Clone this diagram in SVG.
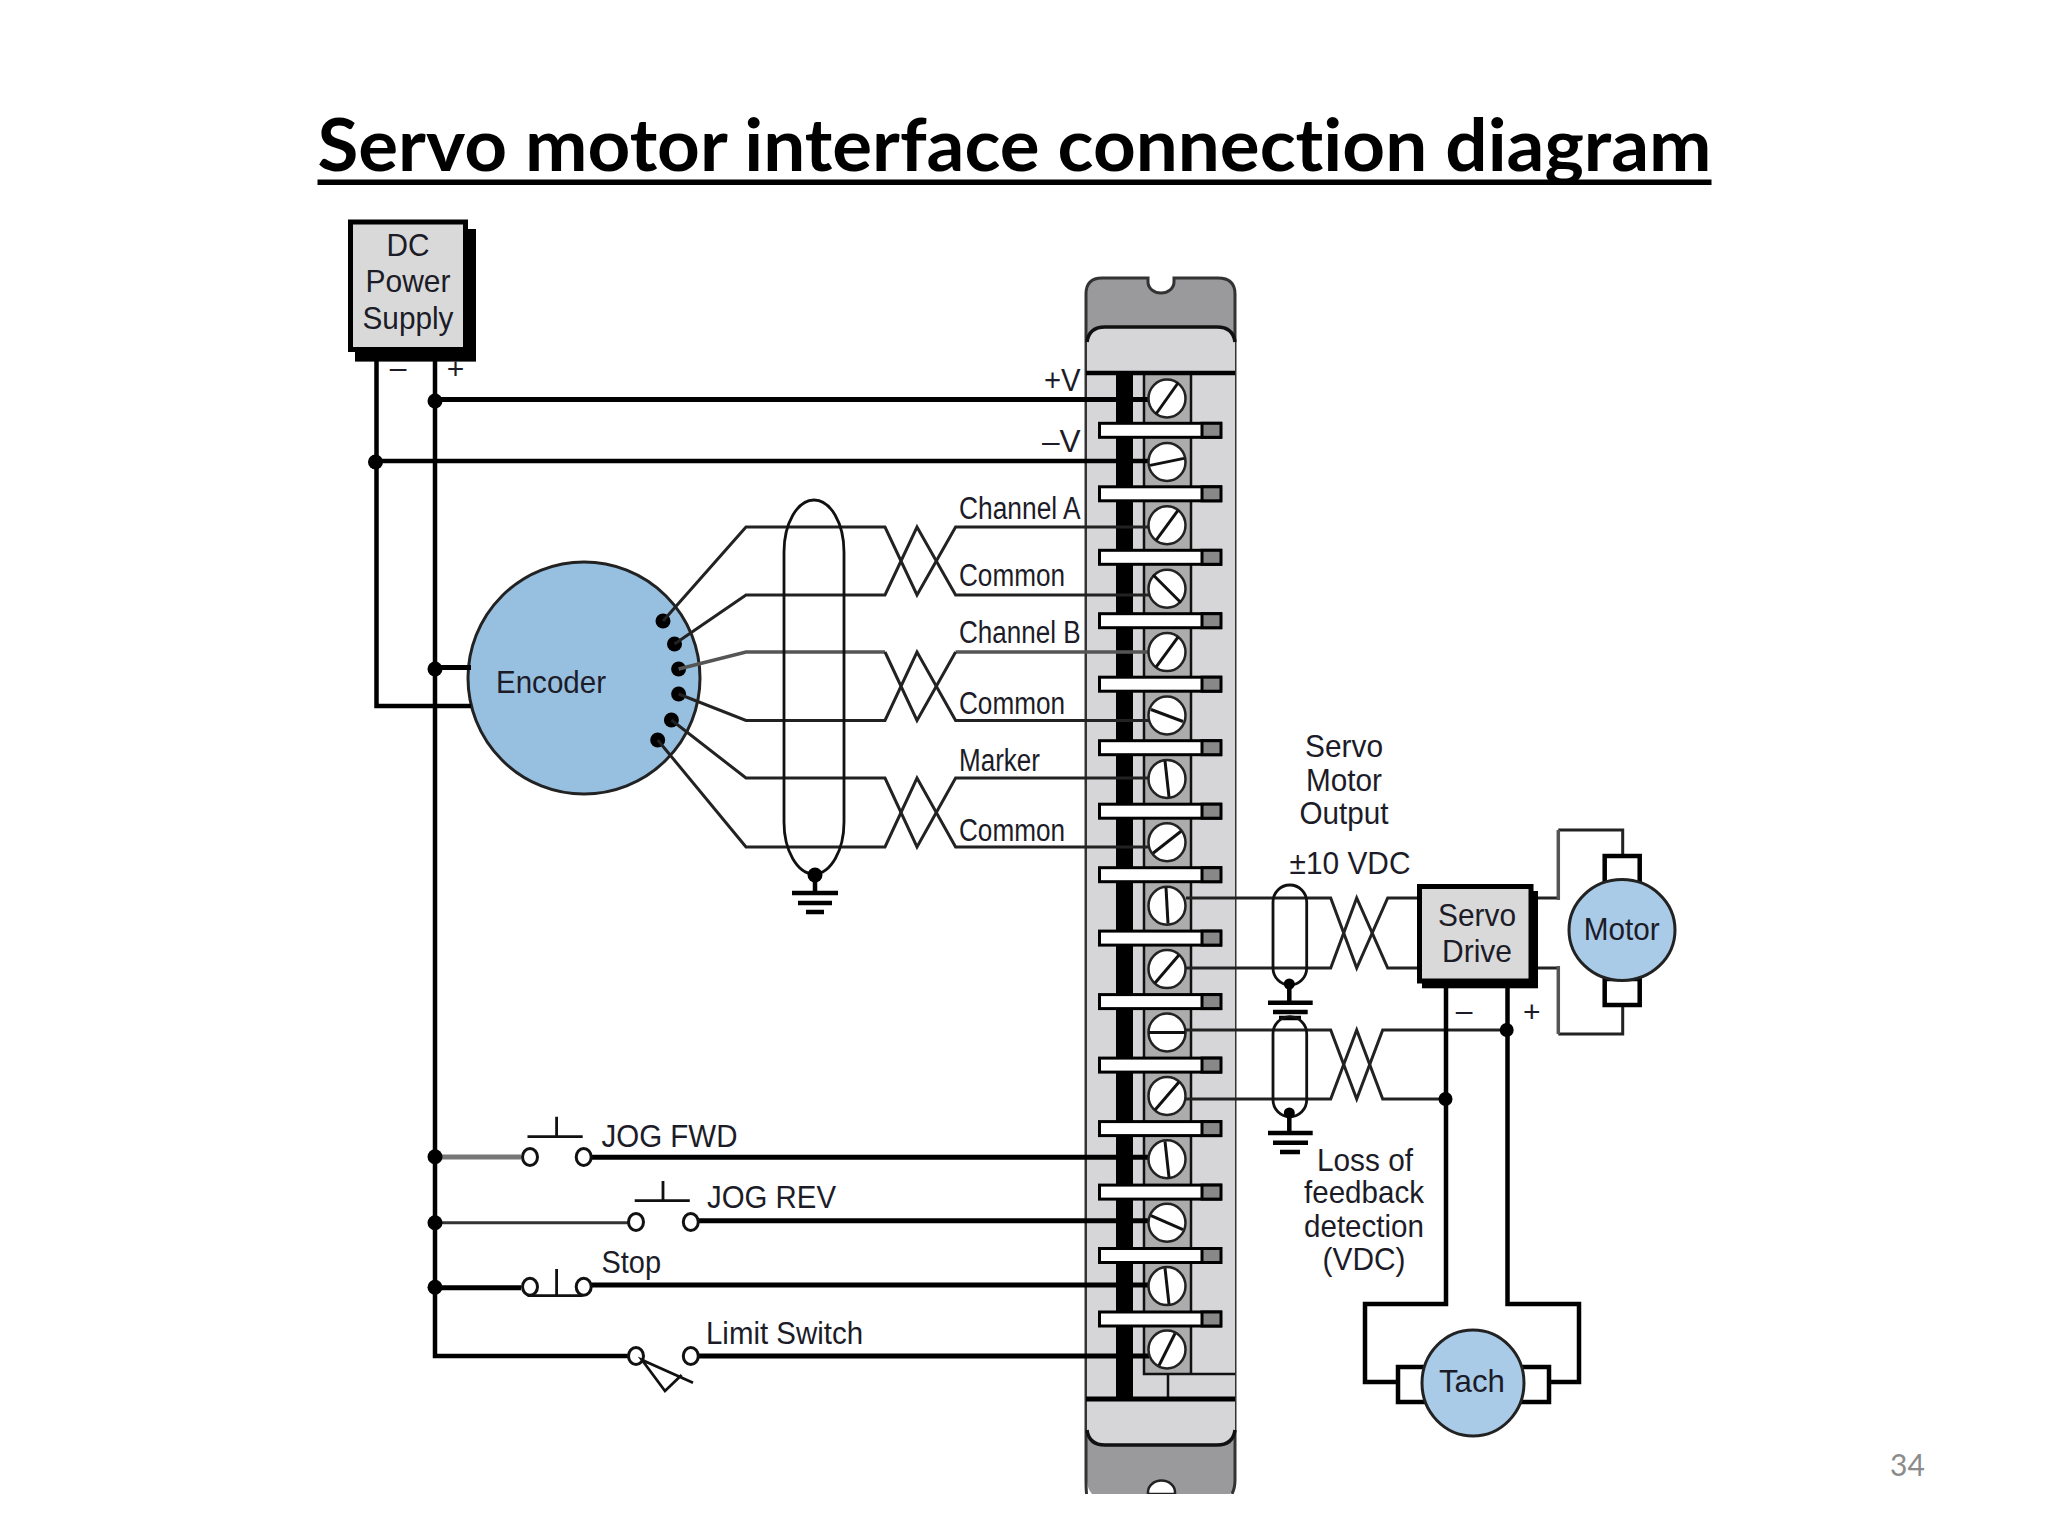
<svg xmlns="http://www.w3.org/2000/svg" width="2048" height="1536" viewBox="0 0 2048 1536">
<style>
text{font-family:"Liberation Sans",Arial,sans-serif;font-size:32px;fill:#1c1c28}
.m{text-anchor:middle}
.n{font-size:31px}
.title{font-family:Lato,"Open Sans",sans-serif;font-weight:700;font-size:72px;fill:#000;font-variant-ligatures:none}
.w{fill:none;stroke:#222;stroke-width:3;stroke-linejoin:miter}
.wg{fill:none;stroke:#555;stroke-width:3.5}
.t{fill:none;stroke:#000;stroke-width:5}
.b{fill:none;stroke:#000;stroke-width:4.5}
.d{fill:#000}
.g{fill:none;stroke:#111;stroke-width:2.8}
.gl{stroke:#000;stroke-width:4.5}
.c{fill:#fff;stroke:#111;stroke-width:3}
.sc{fill:#fff;stroke:#222;stroke-width:2.5}
.sl{stroke:#111;stroke-width:3}
.bw{fill:#fff;stroke:#000;stroke-width:3}
.bg{fill:#888;stroke:#000;stroke-width:3}
.box{fill:#d9d9d9;stroke:#000;stroke-width:5}
.mot{fill:#a9cbe8;stroke:#222;stroke-width:3}
.wb{fill:#fff;stroke:#000;stroke-width:4.5}
.sign{font-size:30px}
</style>
<rect width="2048" height="1536" fill="#fff"/>
<g id="title">
<text class="title" x="317.5" y="171" textLength="1394" lengthAdjust="spacingAndGlyphs">Servo motor interface connection diagram</text>
<rect x="317.5" y="179.5" width="1394" height="5.5" fill="#000"/>
</g>
<g id="terminal-module">
<path d="M1086,294 Q1086,278 1102,278 H1148 V282 A13,11 0 0 0 1174,282 V278 H1218 Q1235,278 1235,294 V1480 Q1235,1488 1230,1494 H1092 Q1087,1488 1087,1480 Z" fill="#9a9a9c"/>
<path d="M1086.5,1494 Q1086,1488 1086,1480 V294 Q1086,278 1102,278 H1148 V282 A13,11 0 0 0 1174,282 V278 H1218 Q1235,278 1235,294 V1480 Q1235,1488 1232,1494" fill="none" stroke="#333" stroke-width="3"/>
<path d="M1087,342 Q1089,327 1105,327 H1217 Q1233,327 1235,342 V1430 Q1233,1445 1217,1445 H1105 Q1089,1445 1087,1430 Z" fill="#d6d6d8"/>
<path d="M1087,342 Q1089,327 1105,327 H1217 Q1233,327 1235,342 M1087,1430 Q1089,1445 1105,1445 H1217 Q1233,1445 1235,1430" fill="none" stroke="#111" stroke-width="3.5"/>
<path d="M1148,1494 V1492 A13,11 0 0 1 1175,1492 V1494 Z" fill="#fff" stroke="#222" stroke-width="2.5"/>
<rect x="1086" y="1494" width="150" height="3" fill="#fff"/>
<path d="M1144,375 V1374 H1191 V375" fill="#acacac"/>
<path d="M1144,375 V1374 H1235 M1191,375 V1374 M1168,1374 V1399" fill="none" stroke="#111" stroke-width="2.5"/>
<rect x="1116" y="373" width="17" height="1026" fill="#000"/>
<path d="M1086,373 H1235" stroke="#000" stroke-width="4.5"/>
<path d="M1086,1399 H1235" stroke="#000" stroke-width="5"/>
</g>
<g id="encoder">
<ellipse cx="584" cy="678" rx="116" ry="116" fill="#97bfe0" stroke="#222" stroke-width="3"/>
<text x="496" y="693" textLength="110" lengthAdjust="spacingAndGlyphs">Encoder</text>
<g class="d">
<circle cx="663" cy="621" r="7.5"/>
<circle cx="674.5" cy="644" r="7.5"/>
<circle cx="678.6" cy="669" r="7.5"/>
<circle cx="678.6" cy="694" r="7.5"/>
<circle cx="671.4" cy="720" r="7.5"/>
<circle cx="657.7" cy="740" r="7.5"/>
</g>
</g>
<g id="connectors">
<path class="b" d="M376.5,361 V706 H471"/>
<path class="b" d="M435,361 V1356 H628"/>
<path class="t" d="M435,399.5 H1149"/>
<path class="b" d="M376,461 H1149"/>
<path class="t" d="M435,667.5 H471"/>
<path class="w" d="M663,621 L746,527 H885 L917,595 L955.6,527 H1149"/>
<path class="w" d="M674.5,644 L746,595 H885 L917,527 L955.6,595 H1149"/>
<path class="wg" d="M678.6,669 L746,652 H885 M955.6,652 H1149"/>
<path class="w" d="M885,652 L917,720.5 L955.6,652"/>
<path class="w" d="M678.6,694 L746,720.5 H885 L917,652 L955.6,720.5 H1149"/>
<path class="w" d="M671.4,720 L746,778 H885 L917,847 L955.6,778 H1149"/>
<path class="w" d="M657.7,740 L746,847 H885 L917,778 L955.6,847 H1149"/>
<path class="w" d="M1186,898 H1330.7 L1356.7,968 L1387.7,898 H1418"/>
<path class="w" d="M1186,968 H1330.7 L1356.7,898 L1387.7,968 H1418"/>
<path class="w" d="M1186,1030 H1330.7 L1356.7,1099 L1382.7,1030 H1507"/>
<path class="w" d="M1186,1099 H1330.7 L1356.7,1030 L1382.7,1099 H1446"/>
<path class="b" d="M1446,985 V1304 H1365 V1382 H1400"/>
<path class="b" d="M1507.5,985 V1304 H1579 V1382 H1549"/>
<path class="w" d="M1536,898 H1558.3 M1622.7,854 V830 H1558.3"/>
<path class="wg" d="M1558.3,900 V830"/>
<path class="w" d="M1536,968 H1558.3 M1622.7,1006 V1034 H1558.3"/>
<path class="wg" d="M1558.3,966 V1034"/>
<path d="M435,1157 H521" fill="none" stroke="#777" stroke-width="5"/>
<path d="M435,1222.7 H628" fill="none" stroke="#333" stroke-width="3"/>
<path class="t" d="M435,1287.7 H521"/>
<path class="t" d="M592,1157.3 H1149"/>
<path class="t" d="M699,1220.7 H1149"/>
<path class="t" d="M592,1285 H1149"/>
<path class="t" d="M699,1356 H1149"/>
<g class="d">
<circle cx="435" cy="401" r="7.5"/>
<circle cx="375.5" cy="462" r="7.5"/>
<circle cx="435" cy="669" r="7.5"/>
<circle cx="1506.7" cy="1030" r="7"/>
<circle cx="1445.5" cy="1099" r="7"/>
<circle cx="435" cy="1156.7" r="7.5"/>
<circle cx="435" cy="1222.7" r="7.5"/>
<circle cx="435" cy="1287.3" r="7.5"/>
</g>
</g>
<g id="screws">
<ellipse class="sc" cx="1167" cy="398.5" rx="18.5" ry="19"/><line class="sl" x1="1156" y1="414" x2="1178" y2="383"/>
<ellipse class="sc" cx="1167" cy="461.9" rx="18.5" ry="19"/><line class="sl" x1="1150" y1="465.4" x2="1184" y2="458.4"/>
<ellipse class="sc" cx="1167" cy="525.3" rx="18.5" ry="19"/><line class="sl" x1="1156" y1="540.3" x2="1178" y2="510.3"/>
<ellipse class="sc" cx="1167" cy="588.7" rx="18.5" ry="19"/><line class="sl" x1="1153" y1="574.7" x2="1181" y2="602.7"/>
<ellipse class="sc" cx="1167" cy="652.1" rx="18.5" ry="19"/><line class="sl" x1="1156" y1="667.1" x2="1178" y2="637.1"/>
<ellipse class="sc" cx="1167" cy="715.5" rx="18.5" ry="19"/><line class="sl" x1="1151" y1="709.5" x2="1183" y2="721.5"/>
<ellipse class="sc" cx="1167" cy="778.9" rx="18.5" ry="19"/><line class="sl" x1="1165" y1="760.9" x2="1169" y2="796.9"/>
<ellipse class="sc" cx="1167" cy="842.3" rx="18.5" ry="19"/><line class="sl" x1="1153" y1="853.3" x2="1181" y2="831.3"/>
<ellipse class="sc" cx="1167" cy="905.7" rx="18.5" ry="19"/><line class="sl" x1="1166" y1="887.7" x2="1168" y2="923.7"/>
<ellipse class="sc" cx="1167" cy="969.1" rx="18.5" ry="19"/><line class="sl" x1="1155" y1="983.1" x2="1179" y2="955.1"/>
<ellipse class="sc" cx="1167" cy="1032.5" rx="18.5" ry="19"/><line class="sl" x1="1149" y1="1032.5" x2="1185" y2="1032.5"/>
<ellipse class="sc" cx="1167" cy="1095.9" rx="18.5" ry="19"/><line class="sl" x1="1155" y1="1109.9" x2="1179" y2="1081.9"/>
<ellipse class="sc" cx="1167" cy="1159.3" rx="18.5" ry="19"/><line class="sl" x1="1165" y1="1141.3" x2="1169" y2="1177.3"/>
<ellipse class="sc" cx="1167" cy="1222.7" rx="18.5" ry="19"/><line class="sl" x1="1151" y1="1215.7" x2="1183" y2="1229.7"/>
<ellipse class="sc" cx="1167" cy="1286.1" rx="18.5" ry="19"/><line class="sl" x1="1165" y1="1268.1" x2="1169" y2="1304.1"/>
<ellipse class="sc" cx="1167" cy="1349.5" rx="18.5" ry="19"/><line class="sl" x1="1159" y1="1365.5" x2="1175" y2="1333.5"/>
</g>
<g id="terminal-bars">
<rect class="bw" x="1099.5" y="423.3" width="121" height="14"/><rect class="bg" x="1202" y="423.3" width="19" height="14"/>
<rect class="bw" x="1099.5" y="486.8" width="121" height="14"/><rect class="bg" x="1202" y="486.8" width="19" height="14"/>
<rect class="bw" x="1099.5" y="550.3" width="121" height="14"/><rect class="bg" x="1202" y="550.3" width="19" height="14"/>
<rect class="bw" x="1099.5" y="613.7" width="121" height="14"/><rect class="bg" x="1202" y="613.7" width="19" height="14"/>
<rect class="bw" x="1099.5" y="677.2" width="121" height="14"/><rect class="bg" x="1202" y="677.2" width="19" height="14"/>
<rect class="bw" x="1099.5" y="740.7" width="121" height="14"/><rect class="bg" x="1202" y="740.7" width="19" height="14"/>
<rect class="bw" x="1099.5" y="804.2" width="121" height="14"/><rect class="bg" x="1202" y="804.2" width="19" height="14"/>
<rect class="bw" x="1099.5" y="867.7" width="121" height="14"/><rect class="bg" x="1202" y="867.7" width="19" height="14"/>
<rect class="bw" x="1099.5" y="931.1" width="121" height="14"/><rect class="bg" x="1202" y="931.1" width="19" height="14"/>
<rect class="bw" x="1099.5" y="994.6" width="121" height="14"/><rect class="bg" x="1202" y="994.6" width="19" height="14"/>
<rect class="bw" x="1099.5" y="1058.1" width="121" height="14"/><rect class="bg" x="1202" y="1058.1" width="19" height="14"/>
<rect class="bw" x="1099.5" y="1121.6" width="121" height="14"/><rect class="bg" x="1202" y="1121.6" width="19" height="14"/>
<rect class="bw" x="1099.5" y="1185.1" width="121" height="14"/><rect class="bg" x="1202" y="1185.1" width="19" height="14"/>
<rect class="bw" x="1099.5" y="1248.5" width="121" height="14"/><rect class="bg" x="1202" y="1248.5" width="19" height="14"/>
<rect class="bw" x="1099.5" y="1312" width="121" height="14"/><rect class="bg" x="1202" y="1312" width="19" height="14"/>
</g>
<g id="dc-power-supply">
<rect x="355" y="229" width="121" height="132.6" fill="#000"/>
<rect class="box" x="350.5" y="222" width="115" height="127.5"/>
<text class="m" x="408" y="256" textLength="43" lengthAdjust="spacingAndGlyphs">DC</text>
<text class="m" x="408" y="292" textLength="85" lengthAdjust="spacingAndGlyphs">Power</text>
<text class="m" x="408" y="329" textLength="91" lengthAdjust="spacingAndGlyphs">Supply</text>
<text class="m sign" x="398" y="378">–</text>
<text class="m sign" x="455.6" y="379">+</text>
</g>
<g id="encoder-labels">
<text class="n" x="1044" y="391" textLength="36.6" lengthAdjust="spacingAndGlyphs">+V</text>
<text class="n" x="1042" y="452" textLength="38.6" lengthAdjust="spacingAndGlyphs">–V</text>
<text class="n" x="959" y="519" textLength="121.6" lengthAdjust="spacingAndGlyphs">Channel A</text>
<text class="n" x="959" y="586" textLength="106" lengthAdjust="spacingAndGlyphs">Common</text>
<text class="n" x="959" y="643" textLength="121.6" lengthAdjust="spacingAndGlyphs">Channel B</text>
<text class="n" x="959" y="714" textLength="106" lengthAdjust="spacingAndGlyphs">Common</text>
<text class="n" x="959" y="771" textLength="81" lengthAdjust="spacingAndGlyphs">Marker</text>
<text class="n" x="959" y="840.6" textLength="106" lengthAdjust="spacingAndGlyphs">Common</text>
</g>
<g id="encoder-shield">
<rect class="g" x="784" y="500" width="60" height="374" rx="30" ry="52"/>
<circle class="d" cx="815" cy="875" r="7.5"/>
<path class="gl" d="M815,875 V893"/>
<path class="gl" d="M792,893 H838 M798,903 H832 M806,912 H824"/>
</g>
<g id="servo-shields">
<rect class="g" x="1273" y="885" width="33.7" height="100" rx="16.8" ry="17"/>
<circle class="d" cx="1289.3" cy="984" r="5.5"/>
<path class="gl" d="M1289.3,984 V1002.7 M1268,1002.7 H1312.7 M1273,1012 H1307.7 M1279,1018 H1301"/>
<rect class="g" x="1273" y="1016.7" width="33.7" height="100" rx="16.8" ry="17"/>
<circle class="d" cx="1289.3" cy="1113" r="5.5"/>
<path class="gl" d="M1289.3,1113 V1133 M1268,1133 H1312.7 M1273,1142.7 H1308 M1280,1152 H1300"/>
</g>
<g id="servo-labels">
<text class="m" x="1344" y="757" textLength="78" lengthAdjust="spacingAndGlyphs">Servo</text>
<text class="m" x="1344" y="791" textLength="76" lengthAdjust="spacingAndGlyphs">Motor</text>
<text class="m" x="1344" y="824" textLength="89" lengthAdjust="spacingAndGlyphs">Output</text>
<text class="m" x="1350" y="874" textLength="121" lengthAdjust="spacingAndGlyphs">±10 VDC</text>
<text class="m" x="1365" y="1170.7" textLength="96" lengthAdjust="spacingAndGlyphs">Loss of</text>
<text class="m" x="1364" y="1203.3" textLength="120" lengthAdjust="spacingAndGlyphs">feedback</text>
<text class="m" x="1364" y="1236.7" textLength="120" lengthAdjust="spacingAndGlyphs">detection</text>
<text class="m" x="1364" y="1270" textLength="83" lengthAdjust="spacingAndGlyphs">(VDC)</text>
</g>
<g id="servo-drive">
<rect x="1422" y="891" width="116" height="97.3" fill="#000"/>
<rect class="box" x="1419.5" y="886.5" width="111.5" height="94.5"/>
<text class="m" x="1477" y="926" textLength="78" lengthAdjust="spacingAndGlyphs">Servo</text>
<text class="m" x="1477" y="961.7" textLength="70" lengthAdjust="spacingAndGlyphs">Drive</text>
<text class="m sign" x="1464" y="1021">–</text>
<text class="m sign" x="1531.7" y="1022">+</text>
</g>
<g id="motor">
<rect class="wb" x="1604.7" y="856" width="35" height="27"/>
<rect class="wb" x="1604.7" y="979" width="35" height="26"/>
<ellipse class="mot" cx="1622" cy="930" rx="53" ry="50.5"/>
<text class="m" x="1621.7" y="940" textLength="76" lengthAdjust="spacingAndGlyphs">Motor</text>
</g>
<g id="tach">
<rect class="wb" x="1398" y="1367" width="30" height="35"/>
<rect class="wb" x="1518" y="1367" width="31" height="35"/>
<ellipse class="mot" cx="1473" cy="1383" rx="51" ry="53"/>
<text class="m" x="1472" y="1391.7" textLength="66" lengthAdjust="spacingAndGlyphs">Tach</text>
</g>
<g id="jog-fwd">
<ellipse class="c" cx="530" cy="1157" rx="7.5" ry="8.5"/><ellipse class="c" cx="583.7" cy="1157" rx="7.5" ry="8.5"/>
<path class="g" d="M527.5,1136.7 H582.7 M556.6,1116.7 V1136.7"/>
<text x="601.5" y="1146.7" textLength="136" lengthAdjust="spacingAndGlyphs">JOG FWD</text>
</g>
<g id="jog-rev">
<ellipse class="c" cx="636" cy="1222" rx="7.5" ry="8.5"/><ellipse class="c" cx="690.8" cy="1222" rx="7.5" ry="8.5"/>
<path class="g" d="M634.7,1200.7 H689.8 M663,1181 V1200.7"/>
<text x="707" y="1208" textLength="129" lengthAdjust="spacingAndGlyphs">JOG REV</text>
</g>
<g id="stop">
<ellipse class="c" cx="530" cy="1286.7" rx="7.5" ry="8.5"/><ellipse class="c" cx="583.7" cy="1286.7" rx="7.5" ry="8.5"/>
<path class="g" d="M527.5,1295.7 H582.7 M556.6,1269 V1295.7"/>
<text x="601.5" y="1272.7" textLength="59.5" lengthAdjust="spacingAndGlyphs">Stop</text>
</g>
<g id="limit-switch">
<ellipse class="c" cx="636" cy="1356" rx="7.5" ry="8.5"/><ellipse class="c" cx="690.8" cy="1356" rx="7.5" ry="8.5"/>
<path class="g" d="M693,1382.7 L642,1360 L665,1391 L681.6,1375"/>
<text x="706" y="1344.3" textLength="157" lengthAdjust="spacingAndGlyphs">Limit Switch</text>
</g>
<text id="page-number" x="1890" y="1476" style="font-family:Lato,'Open Sans',sans-serif;font-size:30px;fill:#8b8b8b">34</text>
</svg>
